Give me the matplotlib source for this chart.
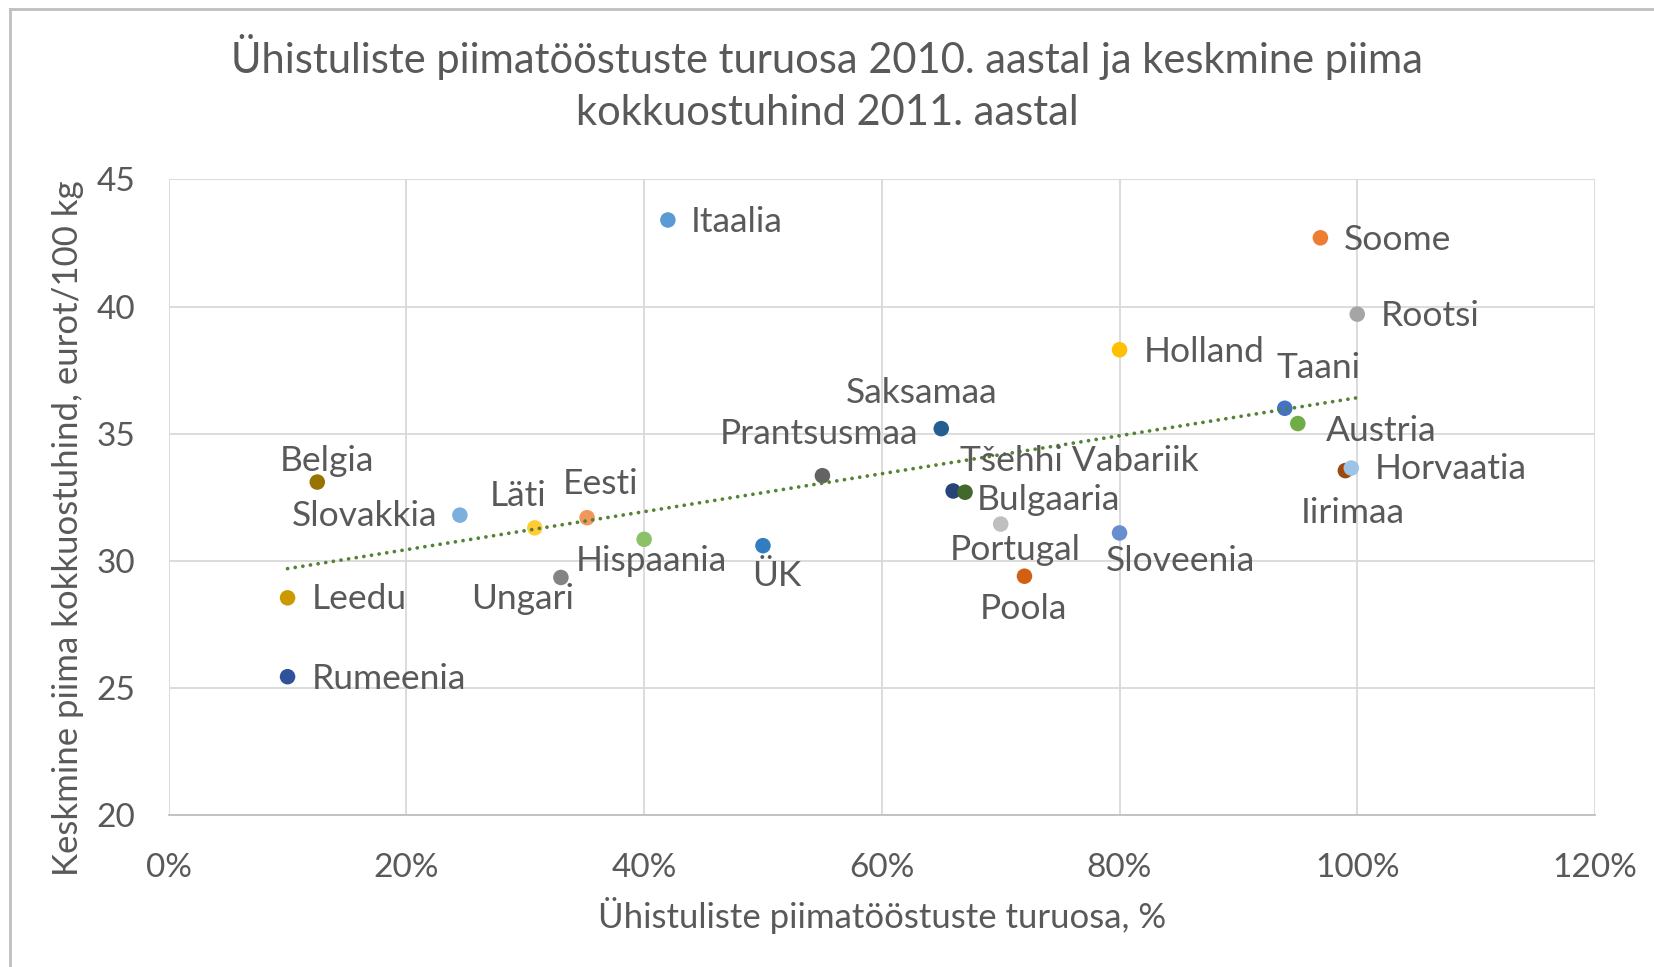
import numpy as np
import matplotlib
matplotlib.use("Agg")
import matplotlib.pyplot as plt
from matplotlib.lines import Line2D
from matplotlib.ticker import PercentFormatter

# ── Data ───────────────────────────────────────────────────────────────────────

countries = ["Itaalia", "Soome", "Rootsi", "Holland", "Taani", "Austria",
             "Saksamaa", "Prantsusmaa", "Tšehhi Vabariik", "Bulgaaria",
             "Portugal", "Poola", "Sloveenia", "Iirimaa", "Horvaatia", "ÜK",
             "Hispaania", "Ungari", "Eesti", "Läti", "Slovakkia", "Belgia",
             "Leedu", "Rumeenia"]
market_share = [42.0, 96.9, 100.0, 80.0, 93.9, 95.0,
                65.0, 55.0, 66.0, 67.0,
                70.0, 72.0, 80.0, 99.0, 99.5, 50.0,
                40.0, 33.0, 35.2, 30.8, 24.5, 12.5,
                10.0, 10.0]
milk_price = [43.4, 42.7, 39.7, 38.3, 36.0, 35.4,
              35.2, 33.35, 32.75, 32.7,
              31.45, 29.4, 31.1, 33.55, 33.65, 30.6,
              30.85, 29.35, 31.7, 31.3, 31.8, 33.1,
              28.55, 25.45]
colors = ["#5B9BD5", "#ED7D31", "#A5A5A5", "#FFC000", "#4472C4", "#70AD47",
          "#255E91", "#636363", "#264478", "#43682B",
          "#BFBFBF", "#D26012", "#698ED0", "#9E480E", "#9DC3E6", "#327DC2",
          "#8CC168", "#848484", "#F1975A", "#FFCD33", "#7CAFDD", "#997300",
          "#CC9A00", "#2F529B"]

x_ticks = [0, 20, 40, 60, 80, 100, 120]
y_ticks = [20, 25, 30, 35, 40, 45]

# label placement: (ha, dx, dy) in pixels relative to the marker
label_pos = {
    "Itaalia": ("left", 23, -2), "Soome": ("left", 23, -2),
    "Rootsi": ("left", 24, -2), "Holland": ("left", 24, -2),
    "Horvaatia": ("left", 23, -1), "Leedu": ("left", 24, -1),
    "Rumeenia": ("left", 24, -2), "Bulgaaria": ("left", 12, -8),
    "Austria": ("left", 28, -7), "Tšehhi Vabariik": ("left", 7, 30),
    "Slovakkia": ("right", -23, -1),
    "Taani": ("center", 34, 40), "Saksamaa": ("center", -20, 36),
    "Prantsusmaa": ("center", -3, 42), "Portugal": ("center", 15, -26),
    "Poola": ("center", -1, -33), "Sloveenia": ("center", 61, -28),
    "Iirimaa": ("center", 7, -42), "ÜK": ("center", 14, -30),
    "Hispaania": ("center", 7, -22), "Ungari": ("center", -38, -22),
    "Eesti": ("center", 13, 34), "Läti": ("center", -17, 32),
    "Belgia": ("center", 10, 21),
}

# ── Plot ───────────────────────────────────────────────────────────────────────

plt.rcParams["font.family"] = ["Lato", "DejaVu Sans"]
TXT = "#595959"

fig = plt.figure(figsize=(16.54, 9.67), dpi=100)
ax = fig.add_axes([0.1020, 0.1568, 0.8623, 0.6578])

ax.scatter(market_share, milk_price, s=125, c=colors, zorder=3, linewidths=0)

# linear trendline, drawn over the markers like Excel does
k, b = np.polyfit(market_share, milk_price, 1)
xs = np.array([min(market_share), max(market_share)])
ax.plot(xs, k * xs + b, color="#548235", lw=2.7,
        linestyle=(0, (0.01, 2.05)), dash_capstyle="round", zorder=4)

for name, xv, yv in zip(countries, market_share, milk_price):
    ha, dx, dy = label_pos[name]
    ax.annotate(name, (xv, yv), xytext=(dx, dy), textcoords="offset pixels",
                ha=ha, va="center", fontsize=25.5, color=TXT, zorder=5)

ax.set_xlim(0, 120)
ax.set_ylim(20, 45)
ax.set_xticks(x_ticks)
ax.set_yticks(y_ticks)
ax.xaxis.set_major_formatter(PercentFormatter(decimals=0))
ax.grid(True, color="#D9D9D9", lw=1.3)
ax.set_axisbelow(True)
for side in ["top", "right", "left"]:
    ax.spines[side].set_visible(False)
ax.spines["bottom"].set_color("#BFBFBF")
ax.spines["bottom"].set_linewidth(1.3)
ax.tick_params(length=0, labelsize=24, labelcolor=TXT)
ax.tick_params(axis="y", pad=24)
ax.tick_params(axis="x", pad=27)

ax.set_xlabel("Ühistuliste piimatööstuste turuosa, %", fontsize=25, color=TXT)
ax.set_ylabel("Keskmine piima kokkuostuhind, eurot/100 kg", fontsize=25, color=TXT)
ax.xaxis.set_label_coords(0.5, -0.1575)
ax.xaxis.label.set_va("center")
ax.yaxis.set_label_coords(-0.0703, 0.452)
ax.yaxis.label.set_va("center")

fig.text(0.5, 0.914, "Ühistuliste piimatööstuste turuosa 2010. aastal ja keskmine piima\n"
         "kokkuostuhind 2011. aastal", ha="center", va="center", fontsize=30,
         color=TXT, linespacing=1.45)

# chart frame (only top and left edges visible in the crop)
fig.add_artist(Line2D([0.006, 1.0], [0.991, 0.991], transform=fig.transFigure,
                      color="#BFBFBF", lw=2))
fig.add_artist(Line2D([0.006, 0.006], [0.0, 0.991], transform=fig.transFigure,
                      color="#BFBFBF", lw=2))

fig.savefig("out.png", dpi=100)
